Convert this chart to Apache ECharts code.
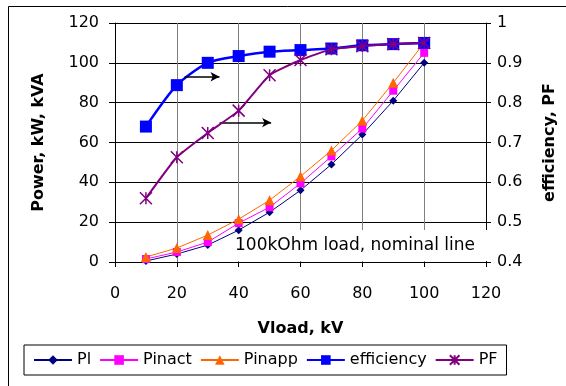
<!DOCTYPE html>
<html><head><meta charset="utf-8">
<script src="https://cdn.jsdelivr.net/npm/echarts@6/dist/echarts.min.js"></script>
<style>html,body{margin:0;padding:0;background:#fff}#c{width:566px;height:386px}</style>
</head><body><div id="c"></div>
<script>
const vload = [10,20,30,40,50,60,70,80,90,100];
const pl = [0.5,4,8.5,16,25,36,49,64,81,100];
const pinact = [1.5,5,10,19.5,27.5,39.5,53,67,86,105];
const pinapp = [2.5,7,13.5,21.5,31,43,56,71,90,110];
const efficiency = [0.74,0.844,0.9,0.917,0.928,0.932,0.936,0.944,0.947,0.95];
const pf = [0.56,0.663,0.724,0.78,0.869,0.907,0.934,0.942,0.947,0.95];
const xTicks = {min:0,max:120,interval:20};
const leftTicks = {min:0,max:120,interval:20};
const rightTicks = {min:0.4,max:1,interval:0.1};
const arrows = [[[22.5,93],[33.8,93]],[[33.8,70],[50.5,70]]];
const note = '100kOhm load, nominal line';

const F = 'DejaVu Sans';
const pair = ys => vload.map((x,i)=>[x,ys[i]]);
const chart = echarts.init(document.getElementById('c'));
const starPath = 'path://M0,0L10,10M10,0L0,10M5,0L5,10';
chart.setOption({
  animation:false,
  textStyle:{fontFamily:F},
  grid:{left:115,right:78,top:23,bottom:124},
  xAxis:{type:'value',min:xTicks.min,max:xTicks.max,interval:xTicks.interval,
    name:'Vload, kV',nameLocation:'middle',nameGap:59,
    nameTextStyle:{fontFamily:F,fontWeight:'bold',fontSize:16,color:'#000'},
    axisLine:{lineStyle:{color:'#000'}},
    axisTick:{show:true,length:5,lineStyle:{color:'#000'}},
    axisLabel:{fontSize:16,color:'#000',margin:24,fontFamily:F},
    splitLine:{show:true,lineStyle:{color:'#808080',width:1}}},
  yAxis:[
    {type:'value',min:leftTicks.min,max:leftTicks.max,interval:leftTicks.interval,
     name:'Power, kW, kVA',nameLocation:'middle',nameGap:68,nameRotate:90,
     nameTextStyle:{fontFamily:F,fontWeight:'bold',fontSize:16,color:'#000'},
     axisLine:{show:true,lineStyle:{color:'#000'}},
     axisTick:{show:true,length:6,lineStyle:{color:'#000'}},
     axisLabel:{fontSize:16,color:'#000',margin:16,fontFamily:F},
     splitLine:{show:true,lineStyle:{color:'#000',width:1}}},
    {type:'value',min:rightTicks.min,max:rightTicks.max,interval:rightTicks.interval,
     name:'efficiency, PF',nameLocation:'middle',nameGap:56,nameRotate:90,
     nameTextStyle:{fontFamily:F,fontWeight:'bold',fontSize:16,color:'#000'},
     axisLine:{show:true,lineStyle:{color:'#000'}},
     axisTick:{show:true,length:5,lineStyle:{color:'#000'}},
     axisLabel:{fontSize:16,color:'#000',margin:11,fontFamily:F,formatter:v=>String(Math.round(v*10)/10)},
     splitLine:{show:false}}
  ],
  legend:{left:24,top:345,padding:[7,9,7,9],borderColor:'#000',borderWidth:1,
    itemWidth:38,itemHeight:12,itemGap:8,
    textStyle:{fontSize:16,color:'#000',fontFamily:F},
    data:['Pl','Pinact','Pinapp','efficiency','PF']},
  series:[
    {name:'Pl',type:'line',data:pair(pl),yAxisIndex:0,symbol:'diamond',symbolSize:8,
     color:'#000080',lineStyle:{width:1,color:'#000080'},z:3,
     markLine:{silent:true,symbol:['none','arrow'],symbolSize:[7,9],label:{show:false},
       lineStyle:{color:'#000',width:1.5,type:'solid'},
       data:arrows.map(a=>[{coord:a[0]},{coord:a[1]}])}},
    {name:'Pinact',type:'line',data:pair(pinact),yAxisIndex:0,symbol:'rect',symbolSize:8,
     color:'#FF00FF',lineStyle:{width:1,color:'#FF00FF'},z:3},
    {name:'Pinapp',type:'line',data:pair(pinapp),yAxisIndex:0,symbol:'triangle',symbolSize:10,
     color:'#FF6600',lineStyle:{width:1,color:'#FF6600'},z:3},
    {name:'efficiency',type:'line',data:pair(efficiency),yAxisIndex:1,symbol:'rect',symbolSize:12,smooth:0.25,
     color:'#0000FF',lineStyle:{width:2.5,color:'#0000FF'},z:4},
    {name:'PF',type:'line',data:pair(pf),yAxisIndex:1,symbol:starPath,symbolSize:12,smooth:0.15,
     color:'#800080',itemStyle:{color:'#800080',borderColor:'#800080',borderWidth:1.5},
     lineStyle:{width:2,color:'#800080'},z:5}
  ],
  graphic:[
    {type:'rect',shape:{x:8.5,y:6.5,width:600,height:420},style:{fill:'none',stroke:'#000',lineWidth:1},z:-10,silent:true},
    {type:'rect',shape:{x:231,y:230,width:256,height:31},style:{fill:'#fff'},z:2,silent:true},
    {type:'text',x:235,y:246,style:{text:note,fontFamily:F,fontSize:17,fill:'#000',verticalAlign:'middle'},z:3,silent:true}
  ]
});
</script></body></html>
